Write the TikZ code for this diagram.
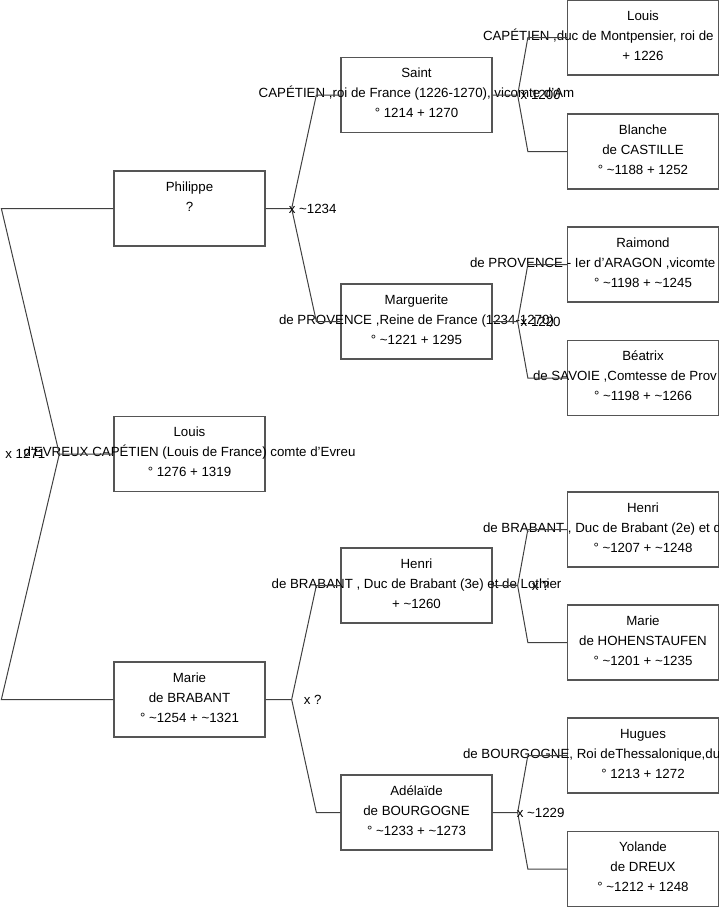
\documentclass[tikz,border=0pt]{standalone}
\usepackage{fontspec}
\setmainfont{Liberation Sans}
\usetikzlibrary{positioning,calc}
\definecolor{frame}{HTML}{555555}
\definecolor{wire}{HTML}{404040}
\newcommand{\spill}[1]{\makebox[0pt]{#1}}
\newcommand{\cutoff}[2]{\makebox[0pt]{\makebox[#1][l]{#2}}}
\newcommand{\apx}{\textasciitilde}

\begin{document}
\begin{tikzpicture}[x=1pt, y=-1pt,
    person/.style={draw=frame, line width=1.3pt, minimum width=151pt,
                   minimum height=75pt, inner sep=0pt, align=center,
                   font=\fontsize{13.3}{20}\selectfont,
                   execute at begin node=\rule{0pt}{16pt},
                   execute at end node=\rule[-4pt]{0pt}{4pt}},
    wed/.style={inner sep=0pt, font=\fontsize{13.3}{20}\selectfont},
    link/.style={draw=wire, line width=1pt},
  ]
    \useasboundingbox (0,0) rectangle (719,908);

    % --- generation 1 and 2 ------------------------------------------------
    \node[person] (r) at (189.5,454) {Louis\\\spill{d'EVREUX CAPÉTIEN (Louis de France) comte d'Evreu}\\° 1276 + 1319};
    \node[person] (f) at (189.5,208.5) {Philippe\\?\\};
    \node[person] (m) at (189.5,699.5) {Marie\\de BRABANT\\° \apx1254 + \apx1321};

    % --- generation 3 -----------------------------------------------------
    \node[person] (ff) at (416.5,95)    {Saint\\\spill{CAPÉTIEN ,roi de France (1226-1270), vicomte d'Am}\\° 1214 + 1270};
    \node[person] (fm) at (416.5,321.5) {Marguerite\\\spill{de PROVENCE ,Reine de France (1234-1270)}\\° \apx1221 + 1295};
    \node[person] (mf) at (416.5,585.5) {Henri\\\spill{de BRABANT , Duc de Brabant (3e) et de Lothier}\\+ \apx1260};
    \node[person] (mm) at (416.5,812.5) {Adélaïde\\de BOURGOGNE\\° \apx1233 + \apx1273};

    % --- generation 4 -----------------------------------------------------
    \node[person] (fff) at (643,37.5)  {Louis\\\cutoff{320pt}{CAPÉTIEN ,duc de Montpensier, roi de}\\+ 1226};
    \node[person] (ffm) at (643,151.5) {Blanche\\de CASTILLE\\° \apx1188 + 1252};
    \node[person] (fmf) at (643,264.5) {Raimond\\\cutoff{346pt}{de PROVENCE - Ier d'ARAGON ,vicomte}\\° \apx1198 + \apx1245};
    \node[person] (fmm) at (643,378)   {Béatrix\\\cutoff{220pt}{de SAVOIE ,Comtesse de Prov}\\° \apx1198 + \apx1266};
    \node[person] (mff) at (643,529.5) {Henri\\\cutoff{320pt}{de BRABANT , Duc de Brabant (2e) et d}\\° \apx1207 + \apx1248};
    \node[person] (mfm) at (643,642.5) {Marie\\de HOHENSTAUFEN\\° \apx1201 + \apx1235};
    \node[person] (mmf) at (643,755.5) {Hugues\\\cutoff{360pt}{de BOURGOGNE, Roi deThessalonique,du}\\° 1213 + 1272};
    \node[person] (mmm) at (643,869)   {Yolande\\de DREUX\\° \apx1212 + 1248};

    % --- forks -------------------------------------------------------------
    \coordinate (j)   at ([xshift=-54pt]r.west);
    \coordinate (jf)  at ([xshift=26pt]f.east);
    \coordinate (jm)  at ([xshift=26pt]m.east);
    \coordinate (jff) at ([xshift=25pt]ff.east);
    \coordinate (jfm) at ([xshift=25pt]fm.east);
    \coordinate (jmf) at ([xshift=25pt]mf.east);
    \coordinate (jmm) at ([xshift=25pt]mm.east);

    \draw[link] (r.west) -- (j) -- ([xshift=-112pt]f.west) -- (f.west);
    \draw[link] (j) -- ([xshift=-112pt]m.west) -- (m.west);
    \draw[link] (f.east) -- (jf) -- ([xshift=-24pt]ff.west) -- (ff.west);
    \draw[link] (jf) -- ([xshift=-24pt]fm.west) -- (fm.west);
    \draw[link] (m.east) -- (jm) -- ([xshift=-24pt]mf.west) -- (mf.west);
    \draw[link] (jm) -- ([xshift=-24pt]mm.west) -- (mm.west);
    \draw[link] (ff.east) -- (jff) -- ([xshift=-39pt]fff.west) -- (fff.west);
    \draw[link] (jff) -- ([xshift=-39pt]ffm.west) -- (ffm.west);
    \draw[link] (fm.east) -- (jfm) -- ([xshift=-39pt]fmf.west) -- (fmf.west);
    \draw[link] (jfm) -- ([xshift=-39pt]fmm.west) -- (fmm.west);
    \draw[link] (mf.east) -- (jmf) -- ([xshift=-39pt]mff.west) -- (mff.west);
    \draw[link] (jmf) -- ([xshift=-39pt]mfm.west) -- (mfm.west);
    \draw[link] (mm.east) -- (jmm) -- ([xshift=-39pt]mmf.west) -- (mmf.west);
    \draw[link] (jmm) -- ([xshift=-39pt]mmm.west) -- (mmm.west);

    % --- marriages ---------------------------------------------------------
    \node[wed] (x)   at ([xshift=-34pt]j)   {x 1271};
    \node[wed] (xf)  at ([xshift=21pt]jf)   {x \apx1234};
    \node[wed] (xm)  at ([xshift=21pt]jm)   {x ?};
    \node[wed] (xff) at ([xshift=23pt]jff)  {x 1200};
    \node[wed] (xfm) at ([xshift=23pt]jfm)  {x 1220};
    \node[wed] (xmf) at ([xshift=23pt]jmf)  {x ?};
    \node[wed] (xmm) at ([xshift=23pt]jmm)  {x \apx1229};
  \end{tikzpicture}
\end{document}
